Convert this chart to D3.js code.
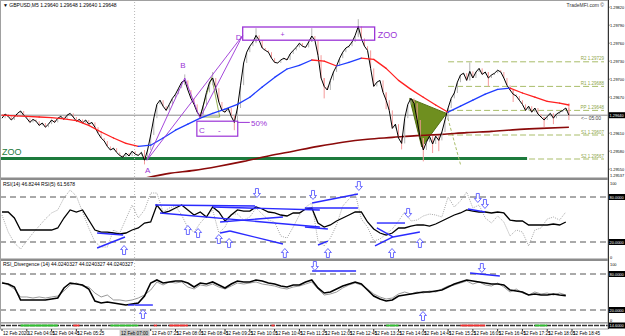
<!DOCTYPE html>
<html>
<head>
<meta charset="utf-8">
<script src="https://cdn.jsdelivr.net/npm/d3@7"></script>
<style>
body { margin: 0; background: #fff; }
svg { display: block; font-family: "Liberation Sans", Arial, sans-serif; }
</style>
</head>
<body>
<div id="chart"></div>
<script>
// ---- data ----
const startTime = new Date(2020, 1, 12, 3, 25);
const barMinutes = 5;
const barCount = 184;

const closes = [
    1.29635, 1.29642, 1.29638, 1.29632, 1.29637, 1.29643, 1.29647, 1.29640, 1.29635, 1.29628,
    1.29633, 1.29630, 1.29623, 1.29627, 1.29620, 1.29625, 1.29632, 1.29628, 1.29635, 1.29638,
    1.29633, 1.29640, 1.29643, 1.29637, 1.29630, 1.29633, 1.29627, 1.29632, 1.29625, 1.29628,
    1.29620, 1.29610, 1.29602, 1.29597, 1.29588, 1.29582, 1.29585, 1.29578, 1.29573, 1.29570,
    1.29577, 1.29572, 1.29580, 1.29575, 1.29573, 1.29578, 1.29565, 1.29582, 1.29607, 1.29635,
    1.29658, 1.29665, 1.29655, 1.29648, 1.29658, 1.29668, 1.29675, 1.29685, 1.29695, 1.29698,
    1.29682, 1.29668, 1.29658, 1.29645, 1.29638, 1.29657, 1.29678, 1.29695, 1.29702, 1.29685,
    1.29662, 1.29648, 1.29645, 1.29652, 1.29638, 1.29628, 1.29652, 1.29690, 1.29727, 1.29745,
    1.29755, 1.29762, 1.29773, 1.29765, 1.29752, 1.29748, 1.29745, 1.29735, 1.29728, 1.29727,
    1.29732, 1.29735, 1.29732, 1.29742, 1.29748, 1.29753, 1.29760, 1.29755, 1.29753, 1.29762,
    1.29772, 1.29765, 1.29740, 1.29702, 1.29688, 1.29682, 1.29698, 1.29712, 1.29722, 1.29735,
    1.29745, 1.29752, 1.29755, 1.29762, 1.29773, 1.29788, 1.29768, 1.29755, 1.29748, 1.29718,
    1.29688, 1.29695, 1.29698, 1.29678, 1.29665, 1.29648, 1.29618, 1.29625, 1.29602, 1.29593,
    1.29635, 1.29658, 1.29668, 1.29660, 1.29632, 1.29602, 1.29582, 1.29595, 1.29605, 1.29592,
    1.29605, 1.29598, 1.29612, 1.29632, 1.29652, 1.29668, 1.29677, 1.29695, 1.29707, 1.29710,
    1.29698, 1.29713, 1.29702, 1.29712, 1.29718, 1.29708, 1.29712, 1.29702, 1.29707, 1.29710,
    1.29715, 1.29712, 1.29702, 1.29690, 1.29682, 1.29675, 1.29672, 1.29665, 1.29658, 1.29648,
    1.29655, 1.29645, 1.29652, 1.29642, 1.29637, 1.29632, 1.29638, 1.29643, 1.29635, 1.29642,
    1.29645, 1.29648, 1.29652, 1.29640
];

// bars with a visible wick
const tailBars = [46, 59, 68, 75, 82, 100, 104, 115, 124, 129, 136, 139, 141, 151, 157, 165, 175, 178, 183];
const tailHigh = [1.29582, 1.29708, 1.29712, 1.29640, 1.29785, 1.29785, 1.29702, 1.29800, 1.29678, 1.29602,
                  1.29602, 1.29605, 1.29605, 1.29728, 1.29712, 1.29682, 1.29637, 1.29643, 1.29660];
const tailLow = [1.29558, 1.29690, 1.29690, 1.29615, 1.29760, 1.29762, 1.29668, 1.29770, 1.29650, 1.29583,
                 1.29563, 1.29577, 1.29580, 1.29698, 1.29688, 1.29662, 1.29620, 1.29625, 1.29632];

// colour-by-slope moving average
const maBars = [0, 4, 8, 12, 16, 20, 24, 28, 32, 36, 40, 44, 48, 52, 56, 60, 64, 68, 72, 76, 80, 84, 88, 92,
                96, 100, 104, 108, 112, 116, 120, 124, 128, 132, 136, 140, 144, 148, 152, 156, 160, 164,
                168, 172, 176, 180, 183];
const maValues = [1.29640, 1.29639, 1.29638, 1.29637, 1.29636, 1.29634, 1.29631, 1.29623, 1.29612, 1.29602,
                  1.29593, 1.29588, 1.29590, 1.29602, 1.29615, 1.29625, 1.29635, 1.29643, 1.29650, 1.29658,
                  1.29670, 1.29687, 1.29703, 1.29717, 1.29723, 1.29732, 1.29730, 1.29722, 1.29728, 1.29735,
                  1.29733, 1.29718, 1.29698, 1.29683, 1.29670, 1.29657, 1.29645, 1.29655, 1.29665, 1.29675,
                  1.29683, 1.29685, 1.29677, 1.29670, 1.29663, 1.29660, 1.29657];

// long moving average (dark red)
const longMaBars = [46, 54, 62, 70, 78, 86, 94, 102, 110, 118, 126, 134, 142, 150, 158, 166, 174, 183];
const longMaValues = [1.29535, 1.29543, 1.29548, 1.29555, 1.29563, 1.29572, 1.29580, 1.29588, 1.29595,
                      1.29600, 1.29603, 1.29606, 1.29608, 1.29611, 1.29613, 1.29616, 1.29618, 1.29620];

const priceTicks = [1.29820, 1.29790, 1.29760, 1.29730, 1.29700, 1.29670, 1.29610, 1.29580, 1.29550];

const levelPrices = [1.29729, 1.29688, 1.29648, 1.29607, 1.29567];
const levelNames = ["R2 1.29729", "R1 1.29688", "PP 1.29648", "S1 1.29607", "S2 1.29567"];
const zooLinePrice = 1.29568;

// pattern points A B C D
const patternNames = ["A", "B", "C", "D"];
const patternBars = [46.8, 59, 63.9, 77.7];
const patternPrices = [1.29565, 1.29702, 1.29635, 1.29773];

// oscillators, one reading every second bar
const oscBars = d3.range(0, 184, 2);
const rsiSlow = [60.0, 60.0, 52.0, 36.0, 36.0, 36.0, 36.0, 36.0, 36.0, 38.7,
                 52.0, 62.7, 60.0, 62.7, 49.3, 36.0, 33.3, 33.3, 32.0, 30.7,
                 32.0, 36.0, 38.7, 45.3, 46.7, 69.3, 58.7, 61.3, 65.3, 69.3,
                 62.7, 56.0, 60.0, 53.3, 66.7, 60.0, 48.0, 56.0, 62.7, 61.3,
                 61.3, 66.7, 64.0, 60.0, 58.7, 56.0, 54.7, 58.7, 58.7, 64.0,
                 65.3, 45.3, 40.0, 42.7, 48.0, 52.0, 56.0, 60.0, 60.0, 46.7,
                 37.3, 32.0, 29.3, 32.0, 38.7, 38.7, 41.3, 42.7, 42.7, 41.3,
                 44.0, 48.0, 52.0, 56.0, 58.7, 62.7, 61.3, 60.0, 60.0, 58.7,
                 60.0, 58.7, 49.3, 48.0, 48.0, 42.7, 42.7, 42.7, 42.7, 44.0,
                 42.7, 46.7];
const rsiFast = [56.0, 33.3, 18.7, 10.7, 21.3, 32.0, 41.3, 50.7, 58.7, 62.7,
                 78.7, 89.3, 81.3, 60.0, 38.7, 20.0, 13.3, 13.3, 36.0, 32.0,
                 50.7, 69.3, 52.0, 62.7, 85.3, 85.3, 60.0, 65.3, 68.0, 56.0,
                 38.7, 33.3, 45.3, 54.7, 62.7, 32.0, 40.0, 57.3, 57.3, 49.3,
                 53.3, 65.3, 57.3, 49.3, 46.7, 28.0, 25.3, 40.0, 56.0, 66.7,
                 72.0, 21.3, 14.7, 25.3, 42.7, 68.0, 77.3, 85.3, 50.7, 40.0,
                 21.3, 24.0, 30.7, 37.3, 48.0, 60.0, 48.0, 49.3, 54.7, 57.3,
                 56.0, 53.3, 80.0, 66.7, 74.7, 86.7, 65.3, 69.3, 52.0, 45.3,
                 54.7, 46.7, 28.0, 36.0, 33.3, 14.7, 36.0, 38.7, 50.7, 53.3,
                 49.3, 60.0];
const divMain = [65.0, 63.3, 58.3, 36.7, 36.7, 36.7, 36.7, 36.7, 38.3, 40.0,
                 56.7, 65.0, 63.3, 61.7, 55.0, 35.0, 31.7, 33.3, 31.7, 30.0,
                 28.3, 30.0, 31.7, 43.3, 65.0, 70.0, 65.0, 66.7, 68.3, 68.3,
                 65.0, 58.3, 65.0, 63.3, 66.7, 61.7, 56.7, 63.3, 68.3, 66.7,
                 66.7, 70.0, 68.3, 65.0, 63.3, 60.0, 58.3, 61.7, 61.7, 66.7,
                 70.0, 56.7, 48.3, 50.0, 55.0, 60.0, 63.3, 66.7, 63.3, 53.3,
                 43.3, 38.3, 35.0, 36.7, 43.3, 45.0, 46.7, 48.3, 50.0, 50.0,
                 51.7, 53.3, 58.3, 63.3, 66.7, 70.0, 68.3, 66.7, 65.0, 63.3,
                 63.3, 61.7, 53.3, 51.7, 50.0, 45.0, 46.7, 45.0, 45.0, 46.7,
                 45.0, 44.0];
const divSignal = [66.7, 61.7, 55.0, 41.7, 41.7, 40.0, 41.7, 40.0, 41.7, 43.3,
                   51.7, 61.7, 65.0, 60.0, 58.3, 48.3, 41.7, 45.0, 36.7, 36.7,
                   35.0, 36.7, 40.0, 45.0, 53.3, 66.7, 61.7, 66.7, 65.0, 66.7,
                   58.3, 55.0, 61.7, 60.0, 63.3, 58.3, 55.0, 60.0, 65.0, 63.3,
                   65.0, 66.7, 63.3, 61.7, 60.0, 56.7, 55.0, 58.3, 60.0, 63.3,
                   66.7, 55.0, 45.0, 46.7, 50.0, 56.7, 61.7, 65.0, 61.7, 55.0,
                   46.7, 41.7, 38.3, 40.0, 46.7, 50.0, 46.7, 50.0, 48.3, 51.7,
                   50.0, 55.0, 60.0, 61.7, 65.0, 68.3, 63.3, 66.7, 61.7, 60.0,
                   65.0, 58.3, 50.0, 55.0, 48.3, 45.0, 50.0, 46.7, 48.3, 45.0,
                   48.3, 45.0];
const oscLevels = [80, 20];

// divergence lines [bar0, value0, bar1, value1]
const rsiLines = [
    [49.4, 69.3, 82.3, 68.0], [51.0, 58.7, 102.6, 40.0], [68.1, 66.7, 102.6, 62.7],
    [70.4, 32.0, 73.6, 34.7], [73.6, 34.7, 90.7, 17.3], [70.4, 46.7, 90.7, 53.3],
    [100.1, 72.0, 114.9, 84.0], [97.8, 65.3, 114.9, 65.3], [97.8, 40.0, 105.2, 37.3],
    [102.0, 16.0, 105.2, 21.3], [121.0, 45.3, 130.1, 45.3], [121.0, 38.7, 126.2, 26.7],
    [120.4, 14.7, 126.2, 26.7], [126.2, 26.7, 134.9, 33.3], [150.4, 64.0, 155.9, 60.0],
    [30.7, 12.0, 39.7, 26.7], [30.7, 32.0, 39.1, 29.3]
];
const rsiUpBars = [39.4, 60.0, 63.3, 70.0, 73.3, 91.3, 105.2, 125.9, 134.9];
const rsiUpValues = [9.3, 36.0, 32.0, 24.0, 18.7, 5.3, 5.3, 5.3, 18.7];
const rsiDownBars = [82.3, 100.4, 115.2, 131.1, 153.6, 155.9];
const rsiDownValues = [85.3, 82.7, 94.7, 58.7, 78.7, 70.7];

const divLines = [[40.7, 28.3, 48.7, 28.3], [100.1, 85.0, 114.3, 85.0], [151.1, 81.7, 160.7, 76.7]];
const divUpBars = [45.5, 135.9];
const divUpValues = [13.3, 10.0];
const divDownBars = [101.0, 154.9];
const divDownValues = [93.3, 90.0];

// bottom strip states
const stripFrom = [6, 23, 35, 49, 54, 87, 124, 148, 172];
const stripTo = [18, 25, 44, 50, 60, 88, 128, 156, 176];
const stripState = ["up", "dn", "up", "dn", "dn", "dn", "up", "dn", "up"];

const timeTicks = ["03:25", "04:05", "04:45", "05:25", "06:05", "06:45", "07:25", "08:05", "08:45", "09:25",
                   "10:05", "10:45", "11:25", "12:05", "12:45", "13:25", "14:05", "14:45", "15:25", "16:05",
                   "16:45", "17:25", "18:05", "18:45"];
const cursorBar = 42.8;
const cursorLabel = "12 Feb 07:00";

// ---- drawing ----
const W = 625, H = 336;
const axisX = 608;
const purple = "#9b34d6";
const blue = "#2a2aff";

const svg = d3.select("#chart").append("svg")
    .attr("width", W)
    .attr("height", H);

const x = d3.scaleTime()
    .domain([startTime, new Date(+startTime + barCount * barMinutes * 60000)])
    .range([2, 572]);
const bx = i => x(new Date(+startTime + i * barMinutes * 60000));

const yMain = d3.scaleLinear().domain([1.29537, 1.29832]).range([177, 0]);
const yRsi = d3.scaleLinear().domain([0, 100]).range([257, 182]);
const yDiv = d3.scaleLinear().domain([0, 100]).range([322, 262]);

const defs = svg.append("defs");
function clip(id, y0, y1) {
    defs.append("clipPath").attr("id", id)
        .append("rect").attr("x", 0).attr("y", y0).attr("width", axisX).attr("height", y1 - y0);
    return svg.append("g").attr("clip-path", `url(#${id})`);
}

function smallText(g, tx, ty, str, opts = {}) {
    return g.append("text")
        .attr("x", tx).attr("y", ty)
        .attr("font-size", opts.size || 5)
        .attr("fill", opts.fill || "#000")
        .attr("text-anchor", opts.anchor || "start")
        .text(str);
}

function arrow(g, cx, cy, dir) {
    // dir -1 points up, 1 points down
    const pts = [[0, -4.5], [3.5, -0.5], [1.5, -0.5], [1.5, 4.5], [-1.5, 4.5], [-1.5, -0.5], [-3.5, -0.5]];
    g.append("path")
        .attr("d", "M" + pts.map(p => [cx + p[0], cy + p[1] * -dir].join(",")).join("L") + "Z")
        .attr("fill", "#fff")
        .attr("stroke", "#4848ff")
        .attr("stroke-width", 0.8);
}

// ======== main panel ========
const main = clip("clipMain", 0, 177);

// pivot style levels
levelPrices.forEach((p, k) => {
    main.append("line")
        .attr("x1", bx(144)).attr("x2", 604)
        .attr("y1", yMain(p)).attr("y2", yMain(p))
        .attr("stroke", "#a9bd6a").attr("stroke-width", 1)
        .attr("stroke-dasharray", "6,3");
    smallText(main, 604, yMain(p) - 1.5, levelNames[k], { fill: "#8fa64a", anchor: "end", size: 4.5 });
});

// ZOO support
main.append("line")
    .attr("x1", 0).attr("x2", bx(169.5))
    .attr("y1", yMain(zooLinePrice)).attr("y2", yMain(zooLinePrice))
    .attr("stroke", "#1c7a3c").attr("stroke-width", 3);
smallText(main, 2, yMain(zooLinePrice) - 3, "ZOO", { fill: "#1c7a3c", size: 9 });

// current price line
main.append("line")
    .attr("x1", 0).attr("x2", axisX)
    .attr("y1", yMain(closes[barCount - 1])).attr("y2", yMain(closes[barCount - 1]))
    .attr("stroke", "#8a8a8a").attr("stroke-width", 1);

// filled triangle + its guide
const tri = [[131.6, 1.29668], [143.5, 1.29643], [135.5, 1.29587]];
main.append("path")
    .attr("d", "M" + tri.map(d => [bx(d[0]), yMain(d[1])].join(",")).join("L") + "Z")
    .attr("fill", "#6f8f1f").attr("stroke", "#557014").attr("stroke-width", 1);
main.append("line")
    .attr("x1", bx(143.5)).attr("y1", yMain(1.29643))
    .attr("x2", bx(148)).attr("y2", yMain(1.29558))
    .attr("stroke", "#a9bd6a").attr("stroke-dasharray", "3,2");

// small olive triangle outline
const tri2 = [[63.9, 1.29637], [67.7, 1.29703], [70.3, 1.29637]];
main.append("path")
    .attr("d", "M" + tri2.map(d => [bx(d[0]), yMain(d[1])].join(",")).join("L") + "Z")
    .attr("fill", "none").attr("stroke", "#7a9a2a").attr("stroke-width", 0.8);

// long MA
main.append("path")
    .datum(longMaBars.map((b, k) => [b, longMaValues[k]]))
    .attr("d", d3.line().x(d => bx(d[0])).y(d => yMain(d[1])).curve(d3.curveMonotoneX))
    .attr("fill", "none").attr("stroke", "#8b0a0a").attr("stroke-width", 1.6);

// bars: body from previous close, plus wicks
closes.forEach((c, i) => {
    const o = i > 0 ? closes[i - 1] : c;
    main.append("line")
        .attr("x1", bx(i)).attr("x2", bx(i))
        .attr("y1", yMain(o)).attr("y2", yMain(c))
        .attr("stroke", c < o ? "#f59a9a" : "#b4b4b4").attr("stroke-width", 1);
});
tailBars.forEach((b, k) => {
    const down = closes[b] < closes[b - 1];
    main.append("line")
        .attr("x1", bx(b)).attr("x2", bx(b))
        .attr("y1", yMain(tailHigh[k])).attr("y2", yMain(tailLow[k]))
        .attr("stroke", down ? "#f59a9a" : "#b4b4b4").attr("stroke-width", 1);
});
main.append("path")
    .datum(closes)
    .attr("d", d3.line().x((d, i) => bx(i)).y(d => yMain(d)))
    .attr("fill", "none").attr("stroke", "#000").attr("stroke-width", 1);

// MA coloured by slope
for (let k = 0; k < maBars.length - 1; k++) {
    main.append("line")
        .attr("x1", bx(maBars[k])).attr("y1", yMain(maValues[k]))
        .attr("x2", bx(maBars[k + 1])).attr("y2", yMain(maValues[k + 1]))
        .attr("stroke", maValues[k + 1] > maValues[k] ? "#1f3cff" : "#ff2020")
        .attr("stroke-width", 1.3).attr("stroke-linecap", "round");
}

// ABCD pattern
const P = patternNames.map((n, k) => [bx(patternBars[k]), yMain(patternPrices[k])]);
[[0, 1], [1, 2], [2, 3], [0, 3]].forEach(([a, b]) => {
    main.append("line")
        .attr("x1", P[a][0]).attr("y1", P[a][1])
        .attr("x2", P[b][0]).attr("y2", P[b][1])
        .attr("stroke", purple).attr("stroke-width", 0.9);
});
smallText(main, bx(47), yMain(1.29543), "A", { fill: purple, size: 8, anchor: "middle" });
smallText(main, bx(58.4), yMain(1.29718), "B", { fill: purple, size: 8, anchor: "middle" });
smallText(main, bx(77.3), yMain(1.29766), "D", { fill: purple, size: 8, anchor: "end" });

// C box and 50% mark
main.append("rect")
    .attr("x", bx(62.9)).attr("y", yMain(1.29630))
    .attr("width", bx(76.1) - bx(62.9)).attr("height", yMain(1.29605) - yMain(1.29630))
    .attr("fill", "none").attr("stroke", purple).attr("stroke-width", 1.2);
smallText(main, bx(63.6), yMain(1.29611), "C", { fill: purple, size: 8 });
smallText(main, bx(69.7), yMain(1.29611), "-", { fill: purple, size: 8 });
main.append("line")
    .attr("x1", bx(76.1)).attr("x2", bx(80))
    .attr("y1", yMain(1.29628)).attr("y2", yMain(1.29628))
    .attr("stroke", purple).attr("stroke-width", 1);
smallText(main, bx(80.4), yMain(1.29622), "50%", { fill: purple, size: 8 });

// ZOO box
main.append("rect")
    .attr("x", bx(77.7)).attr("y", yMain(1.29787))
    .attr("width", bx(120.3) - bx(77.7)).attr("height", yMain(1.29765) - yMain(1.29787))
    .attr("fill", "none").attr("stroke", purple).attr("stroke-width", 1.3);
smallText(main, bx(90.6), yMain(1.29771), "+", { fill: purple, size: 7, anchor: "middle" });
smallText(main, bx(121.3), yMain(1.29768), "ZOO", { fill: purple, size: 9 });

// header texts
smallText(svg, 3, 7, "\u25BC GBPUSD,M5  1.29640 1.29648 1.29640 1.29648");
smallText(svg, 604, 7, "TradeMFI.com \u00A9", { anchor: "end", fill: "#333" });
smallText(svg, 581, yMain(closes[barCount - 1]) + 5, "<-- 05:00", { fill: "#444" });

// ======== RSI panel ========
const rsi = clip("clipRsi", 181, 258);
oscLevels.forEach(v => {
    rsi.append("line").attr("x1", 0).attr("x2", axisX)
        .attr("y1", yRsi(v)).attr("y2", yRsi(v))
        .attr("stroke", "#555").attr("stroke-dasharray", "6,4");
});
rsi.append("path").datum(rsiFast)
    .attr("d", d3.line().x((d, k) => bx(oscBars[k])).y(d => yRsi(d)))
    .attr("fill", "none").attr("stroke", "#9c9c9c").attr("stroke-width", 0.9)
    .attr("stroke-dasharray", "1,1.2");
rsi.append("path").datum(rsiSlow)
    .attr("d", d3.line().x((d, k) => bx(oscBars[k])).y(d => yRsi(d)))
    .attr("fill", "none").attr("stroke", "#000").attr("stroke-width", 1.3);
rsiLines.forEach(l => {
    rsi.append("line")
        .attr("x1", bx(l[0])).attr("y1", yRsi(l[1]))
        .attr("x2", bx(l[2])).attr("y2", yRsi(l[3]))
        .attr("stroke", blue).attr("stroke-width", 1.4);
});
rsiUpBars.forEach((b, k) => arrow(rsi, bx(b), yRsi(rsiUpValues[k]), -1));
rsiDownBars.forEach((b, k) => arrow(rsi, bx(b), yRsi(rsiDownValues[k]), 1));
smallText(svg, 3, 186, "RSI(14) 46.8244   RSI(5) 61.5678");

// ======== divergence panel ========
const div = clip("clipDiv", 261, 322);
oscLevels.forEach(v => {
    div.append("line").attr("x1", 0).attr("x2", axisX)
        .attr("y1", yDiv(v)).attr("y2", yDiv(v))
        .attr("stroke", "#555").attr("stroke-dasharray", "6,4");
});
div.append("path").datum(divSignal)
    .attr("d", d3.line().x((d, k) => bx(oscBars[k])).y(d => yDiv(d)))
    .attr("fill", "none").attr("stroke", "#8c8c8c").attr("stroke-width", 0.9);
div.append("path").datum(divMain)
    .attr("d", d3.line().x((d, k) => bx(oscBars[k])).y(d => yDiv(d)))
    .attr("fill", "none").attr("stroke", "#000").attr("stroke-width", 1.6);
divLines.forEach(l => {
    div.append("line")
        .attr("x1", bx(l[0])).attr("y1", yDiv(l[1]))
        .attr("x2", bx(l[2])).attr("y2", yDiv(l[3]))
        .attr("stroke", blue).attr("stroke-width", 1.4);
});
divUpBars.forEach((b, k) => arrow(div, bx(b), yDiv(divUpValues[k]), -1));
divDownBars.forEach((b, k) => arrow(div, bx(b), yDiv(divDownValues[k]), 1));
smallText(svg, 3, 266, "RSI_Divergence (14) 44.0240327 44.0240327 44.0240327");

// ======== bottom strip ========
svg.append("line").attr("x1", 0).attr("x2", axisX).attr("y1", 325.5).attr("y2", 325.5)
    .attr("stroke", "#333").attr("stroke-width", 1.4).attr("stroke-dasharray", "5,1");
stripFrom.forEach((f, k) => {
    svg.append("line")
        .attr("x1", bx(f)).attr("x2", bx(stripTo[k]))
        .attr("y1", 325.5).attr("y2", 325.5)
        .attr("stroke", stripState[k] === "up" ? "#2fbf2f" : "#f03030").attr("stroke-width", 1.8);
});

// ======== separators, frame and axes ========
svg.append("rect").attr("x", 0).attr("y", 177.5).attr("width", axisX).attr("height", 2.5).attr("fill", "#8c8c8c");
svg.append("rect").attr("x", 0).attr("y", 258.5).attr("width", axisX).attr("height", 2.5).attr("fill", "#8c8c8c");
svg.append("line").attr("x1", 0).attr("x2", axisX).attr("y1", 322.8).attr("y2", 322.8)
    .attr("stroke", "#8c8c8c").attr("stroke-width", 1.2);
svg.append("rect").attr("x", 0.5).attr("y", 0.5).attr("width", axisX - 0.5).attr("height", 328.5)
    .attr("fill", "none").attr("stroke", "#a0a0a0");
svg.append("line").attr("x1", axisX + 0.5).attr("x2", axisX + 0.5).attr("y1", 0).attr("y2", 329)
    .attr("stroke", "#333");

// cursor line
svg.append("line")
    .attr("x1", bx(cursorBar)).attr("x2", bx(cursorBar)).attr("y1", 2).attr("y2", 329)
    .attr("stroke", "#b8b8b8").attr("stroke-dasharray", "1,2");

// price axis
const axisFont = 3.9;
priceTicks.forEach(p => {
    svg.append("line").attr("x1", axisX).attr("x2", axisX + 1.5)
        .attr("y1", yMain(p)).attr("y2", yMain(p)).attr("stroke", "#333");
    smallText(svg, axisX + 2, yMain(p) + 1.5, p.toFixed(5), { size: axisFont });
});
smallText(svg, axisX + 2, 177, "1.29537", { size: axisFont });

function valueBox(yc, str) {
    svg.append("rect").attr("x", axisX + 1).attr("y", yc - 3).attr("width", 16).attr("height", 6).attr("fill", "#000");
    smallText(svg, axisX + 1.6, yc + 1.5, str, { size: axisFont, fill: "#fff" });
}
valueBox(yMain(closes[barCount - 1]), closes[barCount - 1].toFixed(5));

smallText(svg, axisX + 2, 185, "100", { size: axisFont });
smallText(svg, axisX + 2, 259, "0", { size: axisFont });
oscLevels.forEach(v => valueBox(yRsi(v), v.toFixed(4)));
smallText(svg, axisX + 2, 265.5, "100", { size: axisFont });
smallText(svg, axisX + 2, 321.5, "0", { size: axisFont });
oscLevels.forEach(v => valueBox(yDiv(v), v.toFixed(4)));
valueBox(325.5, "14.6000");

// time axis (the cursor label box hides the tick it sits on)
const boxLeft = bx(cursorBar) - 15, boxRight = bx(cursorBar) + 15;
timeTicks.forEach((t, k) => {
    const [hh, mm] = t.split(":").map(Number);
    const tx = x(new Date(2020, 1, 12, hh, mm));
    svg.append("line").attr("x1", tx).attr("x2", tx).attr("y1", 329).attr("y2", 331).attr("stroke", "#333");
    if (tx + 24 > boxLeft && tx < boxRight) return;
    smallText(svg, tx + 1, 334.5, k === 0 ? "12 Feb 2020" : "12 Feb " + t, { size: 4.6 });
});
svg.append("rect")
    .attr("x", boxLeft).attr("y", 329.5).attr("width", boxRight - boxLeft).attr("height", 6.5)
    .attr("fill", "#c8c8c8");
smallText(svg, bx(cursorBar), 334.8, cursorLabel, { size: 4.6, anchor: "middle" });
</script>
</body>
</html>
